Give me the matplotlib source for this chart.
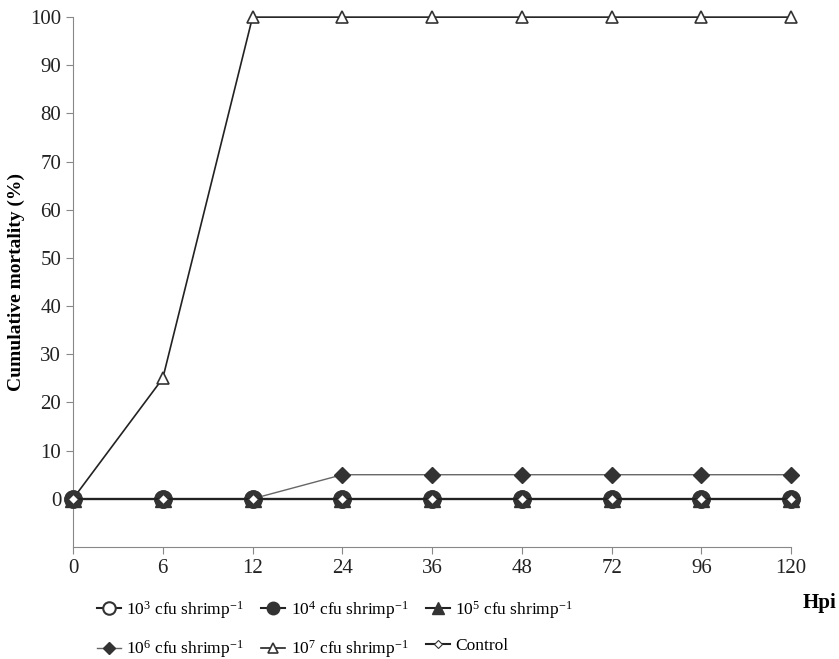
import matplotlib
matplotlib.use('Agg')
import matplotlib.pyplot as plt

plt.rcParams['font.family'] = ['Liberation Serif', 'DejaVu Serif']
plt.rcParams['mathtext.fontset'] = 'custom'
plt.rcParams['mathtext.rm'] = 'Liberation Serif'
plt.rcParams['mathtext.it'] = 'Liberation Serif:italic'
plt.rcParams['mathtext.bf'] = 'Liberation Serif:bold'

# 감염 후 시간 (Hpi)
hpi = ['0', '6', '12', '24', '36', '48', '72', '96', '120']

d1e3 = [0, 0, 0, 0, 0, 0, 0, 0, 0]
d1e4 = [0, 0, 0, 0, 0, 0, 0, 0, 0]
d1e5 = [0, 0, 0, 0, 0, 0, 0, 0, 0]
d1e6 = [0, 0, 0, 5, 5, 5, 5, 5, 5]
d1e7 = [0, 25, 100, 100, 100, 100, 100, 100, 100]
control = [0, 0, 0, 0, 0, 0, 0, 0, 0]

labels = [r'10$^{\mathrm{3}}$ cfu shrimp$^{\mathrm{-1}}$',
          r'10$^{\mathrm{4}}$ cfu shrimp$^{\mathrm{-1}}$',
          r'10$^{\mathrm{5}}$ cfu shrimp$^{\mathrm{-1}}$',
          r'10$^{\mathrm{6}}$ cfu shrimp$^{\mathrm{-1}}$',
          r'10$^{\mathrm{7}}$ cfu shrimp$^{\mathrm{-1}}$',
          'Control']

fig = plt.figure(figsize=(8.39, 6.59), dpi=100)
ax = fig.add_axes([0.087, 0.170, 0.856, 0.804])
x = range(len(hpi))
ec = '#333333'

l5, = ax.plot(x, d1e5, '-', color='#222222', lw=1.5, marker='^', ms=12,
              mfc=ec, mec=ec, clip_on=False, zorder=3)
l3, = ax.plot(x, d1e3, '-', color='#222222', lw=1.5, marker='o', ms=12,
              mfc='white', mec=ec, mew=1.5, clip_on=False, zorder=4)
l4, = ax.plot(x, d1e4, '-', color='#222222', lw=1.5, marker='o', ms=12,
              mfc=ec, mec=ec, clip_on=False, zorder=5)
l6, = ax.plot(x, d1e6, '-', color='#666666', lw=1, marker='D', ms=8,
              mfc=ec, mec=ec, clip_on=False, zorder=4)
l7, = ax.plot(x, d1e7, '-', color='#222222', lw=1.2, marker='^', ms=9,
              mfc='white', mec=ec, mew=1.2, clip_on=False, zorder=4)
lc, = ax.plot(x, control, '-', color='#222222', lw=1.5, marker='D', ms=5,
              mfc='white', mec=ec, mew=0.8, clip_on=False, zorder=6)

ax.set_xlim(0, len(hpi) - 1)
ax.set_ylim(-10, 100)
ax.set_yticks(range(0, 101, 10))
ax.set_xticks(list(x))
ax.set_xticklabels(hpi)
ax.spines['top'].set_visible(False)
ax.spines['right'].set_visible(False)
for s in ['left', 'bottom']:
    ax.spines[s].set_color('#888888')
ax.tick_params(axis='both', direction='out', colors='#888888', labelcolor='#222222',
               labelsize=15, length=5)
ax.tick_params(axis='x', pad=4)
ax.set_ylabel('Cumulative mortality (%)', fontsize=14, fontweight='bold', labelpad=4)
fig.text(0.977, 0.085, 'Hpi', fontsize=15, fontweight='bold', ha='center', va='center')

handles = [l3, l6, l4, l7, l5, lc]
leg_labels = [labels[0], labels[3], labels[1], labels[4], labels[2], labels[5]]
fig.legend(handles, leg_labels, ncol=3, loc='upper left', bbox_to_anchor=(0.107, 0.102),
           borderaxespad=0, frameon=False, fontsize=12.5, handlelength=1.4,
           columnspacing=1.0, handletextpad=0.3, labelspacing=1.0, markerscale=0.75)

fig.savefig('out.png', dpi=100)
